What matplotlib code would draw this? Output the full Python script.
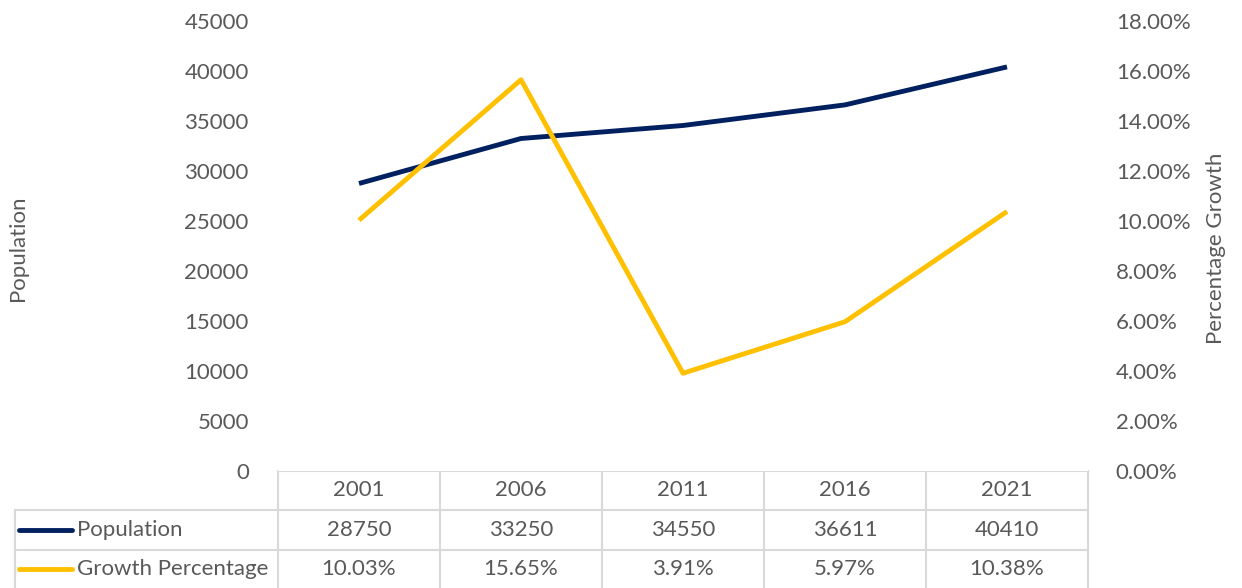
import matplotlib.pyplot as plt
from matplotlib.ticker import FuncFormatter

years = ["2001", "2006", "2011", "2016", "2021"]
population = [28750, 33250, 34550, 36611, 40410]
growth = [10.03, 15.65, 3.91, 5.97, 10.38]
pop_labels = ["28750", "33250", "34550", "36611", "40410"]
growth_labels = ["10.03%", "15.65%", "3.91%", "5.97%", "10.38%"]

navy = "#002060"
gold = "#FFC000"
txt = "#595959"
grid_c = "#d9d9d9"
fs = 16

plt.rcParams['font.family'] = ['Lato', 'DejaVu Sans']

W, H = 1242, 588
fig = plt.figure(figsize=(W / 100, H / 100), dpi=100)

# plot area in pixels
x0, x1 = 278, 1088
y_top, y_bot = 21, 471
ax = fig.add_axes([x0 / W, 1 - y_bot / H, (x1 - x0) / W, (y_bot - y_top) / H])
ax2 = ax.twinx()

xs = list(range(len(years)))
ax.plot(xs, population, color=navy, lw=3.5, solid_capstyle='butt', zorder=3)
ax2.plot(xs, growth, color=gold, lw=3.5, solid_capstyle='butt', zorder=3)

ax.set_xlim(-0.5, len(years) - 0.5)
ax.set_ylim(0, 45000)
ax.set_yticks(range(0, 45001, 5000))
ax2.set_ylim(0, 18)
ax2.set_yticks(range(0, 19, 2))
ax2.yaxis.set_major_formatter(FuncFormatter(lambda v, p: f"{v:.2f}%"))
ax.set_xticks([])

for a in (ax, ax2):
    for s in a.spines.values():
        s.set_visible(False)
    a.tick_params(axis='y', length=0, labelsize=fs, labelcolor=txt)
ax.tick_params(axis='y', pad=21)
ax2.tick_params(axis='y', pad=20)

fig.text(18 / W, 1 - 248 / H, "Population", rotation=90, ha='center', va='center',
         fontsize=fs, color=txt)
fig.text(1216 / W, 1 - 248 / H, "Percentage Growth", rotation=90, ha='center', va='center',
         fontsize=fs, color=txt)

# data table below plot, in pixel coordinates
tab = fig.add_axes([0, 0, 1, 1], zorder=-1)
tab.set_xlim(0, W)
tab.set_ylim(H, 0)
tab.axis('off')
col_w = (x1 - x0) / len(years)
rows = [471, 510, 550, 590]
lx = 15
tab.plot([x0, x1], [rows[0], rows[0]], color=grid_c, lw=1.5)
for yy in rows[1:3]:
    tab.plot([lx, x1], [yy, yy], color=grid_c, lw=1.5)
tab.plot([lx, lx], [rows[1], H], color=grid_c, lw=1.5)
for i in range(len(years) + 1):
    xx = x0 + i * col_w
    tab.plot([xx, xx], [rows[0], H], color=grid_c, lw=1.5)

for i in range(len(years)):
    cx = x0 + (i + 0.5) * col_w
    tab.text(cx, (rows[0] + rows[1]) / 2, years[i], ha='center', va='center', fontsize=fs, color=txt)
    tab.text(cx, (rows[1] + rows[2]) / 2, pop_labels[i], ha='center', va='center', fontsize=fs, color=txt)
    tab.text(cx, (rows[2] + 588) / 2, growth_labels[i], ha='center', va='center', fontsize=fs, color=txt)

for r, (name, c) in enumerate([("Population", navy), ("Growth Percentage", gold)]):
    yc = (rows[1 + r] + min(rows[2 + r], 588)) / 2
    tab.plot([19, 72], [yc, yc], color=c, lw=3.5, solid_capstyle='round')
    tab.text(77, yc, name, ha='left', va='center', fontsize=fs, color=txt)

fig.savefig("out.png", dpi=100)
